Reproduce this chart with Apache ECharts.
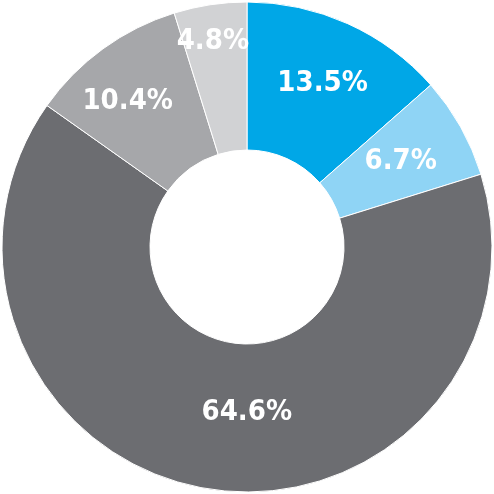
<!DOCTYPE html>
<html>
<head>
<meta charset="utf-8">
<script src="https://cdn.jsdelivr.net/npm/echarts@6/dist/echarts.min.js"></script>
<style>
  html, body { margin: 0; padding: 0; background: #fff; }
  #chart { width: 494px; height: 494px; }
</style>
</head>
<body>
<div id="chart"></div>
<script>
// slice values, clockwise from 12 o'clock
const names  = ['A', 'B', 'C', 'D', 'E']
const values = [13.5, 6.7, 64.6, 10.4, 4.8]
const colors = ['#00a7e7', '#8fd4f5', '#6c6d71', '#a6a7aa', '#d1d2d4']
// small label nudges to match the original placement
const nudge = [[4, -5], [2, 0], [27, -6], [-17, -5], [-8, -34]]

const chart = echarts.init(document.getElementById('chart'))

chart.setOption({
  animation: false,
  series: [{
    type: 'pie',
    center: [247, 247],
    radius: [97, 245],
    startAngle: 90,
    clockwise: true,
    avoidLabelOverlap: false,
    itemStyle: {
      borderColor: '#ffffff',
      borderWidth: 1,
    },
    label: {
      show: true,
      position: 'inside',
      color: '#ffffff',
      fontFamily: '"DejaVu Sans Condensed", sans-serif',
      fontWeight: 'bold',
      fontSize: 29,
      formatter: p => p.value.toFixed(1) + '%',
    },
    labelLine: { show: false },
    emphasis: { disabled: true },
    labelLayout: p => ({ dx: nudge[p.dataIndex][0], dy: nudge[p.dataIndex][1] }),
    data: names.map((n, i) => ({
      name: n,
      value: values[i],
      itemStyle: { color: colors[i] },
    })),
  }],
})
</script>
</body>
</html>
